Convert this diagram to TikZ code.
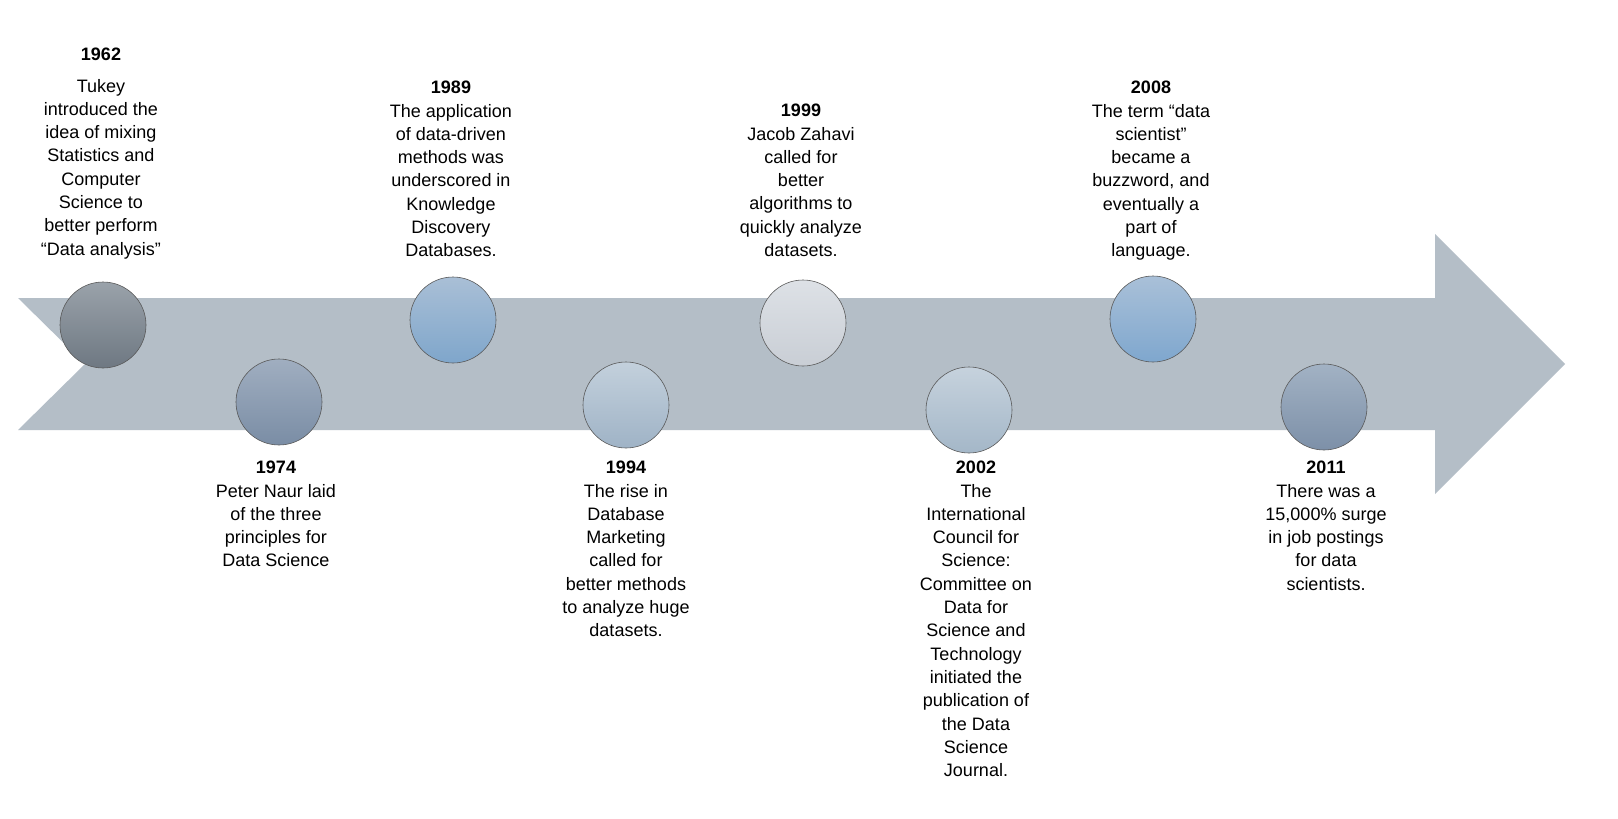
\documentclass[tikz,border=0pt]{standalone}
\usepackage{fontspec}
\setmainfont{Liberation Sans}
\begin{document}
\begin{tikzpicture}[x=1pt,y=-1pt,
  lbl/.style={align=center,inner sep=0pt,anchor=north,font=\fontsize{18}{23.3}\selectfont},
  dot/.style={circle,minimum size=86pt,inner sep=0pt,draw=black!65,line width=0.6pt}]
\useasboundingbox (0,0) rectangle (1618,819);
\fill[fill=white] (0,0) rectangle (1618,819);
\fill[color={rgb,255:red,180;green,190;blue,199}] (18,298) -- (1435,298) -- (1435,234) -- (1565,364) -- (1435,494) -- (1435,430) -- (18,430) -- (85,364) -- cycle;
\def\dotc#1#2#3#4#5{\definecolor{t#1}{HTML}{#4}\definecolor{b#1}{HTML}{#5}%
  \node[dot,top color=t#1,bottom color=b#1] (c#1) at (#2,#3) {};}
\dotc{a}{103}{325}{9AA2AA}{6E7882}
\dotc{b}{279}{402}{A0AEC0}{7A8DA5}
\dotc{c}{453}{320}{A9BFD6}{7FA6CB}
\dotc{d}{626}{405}{C3D0DC}{9FB3C6}
\dotc{e}{803}{323}{DDE1E6}{C9CED5}
\dotc{f}{969}{410}{C6D2DD}{A4B7C8}
\dotc{g}{1153}{319}{A9C0D8}{7FA7CE}
\dotc{h}{1324}{407}{A2B2C4}{7D90A8}
\node[lbl] (ta) at (101,48) {\textbf{1962}\\[8pt]Tukey\\introduced the\\idea of mixing\\Statistics and\\Computer\\Science to\\better perform\\“Data analysis”};
\node[lbl] (tb) at (276,461) {\textbf{1974}\\Peter Naur laid\\of the three\\principles for\\Data Science};
\node[lbl] (tc) at (451,81) {\textbf{1989}\\The application\\of data-driven\\methods was\\underscored in\\Knowledge\\Discovery\\Databases.};
\node[lbl] (td) at (626,461) {\textbf{1994}\\The rise in\\Database\\Marketing\\called for\\better methods\\to analyze huge\\datasets.};
\node[lbl] (te) at (801,104) {\textbf{1999}\\Jacob Zahavi\\called for\\better\\algorithms to\\quickly analyze\\datasets.};
\node[lbl] (tf) at (976,461) {\textbf{2002}\\The\\International\\Council for\\Science:\\Committee on\\Data for\\Science and\\Technology\\initiated the\\publication of\\the Data\\Science\\Journal.};
\node[lbl] (tg) at (1151,81) {\textbf{2008}\\The term “data\\scientist”\\became a\\buzzword, and\\eventually a\\part of\\language.};
\node[lbl] (th) at (1326,461) {\textbf{2011}\\There was a\\15,000\% surge\\in job postings\\for data\\scientists.};
\end{tikzpicture}
\end{document}
